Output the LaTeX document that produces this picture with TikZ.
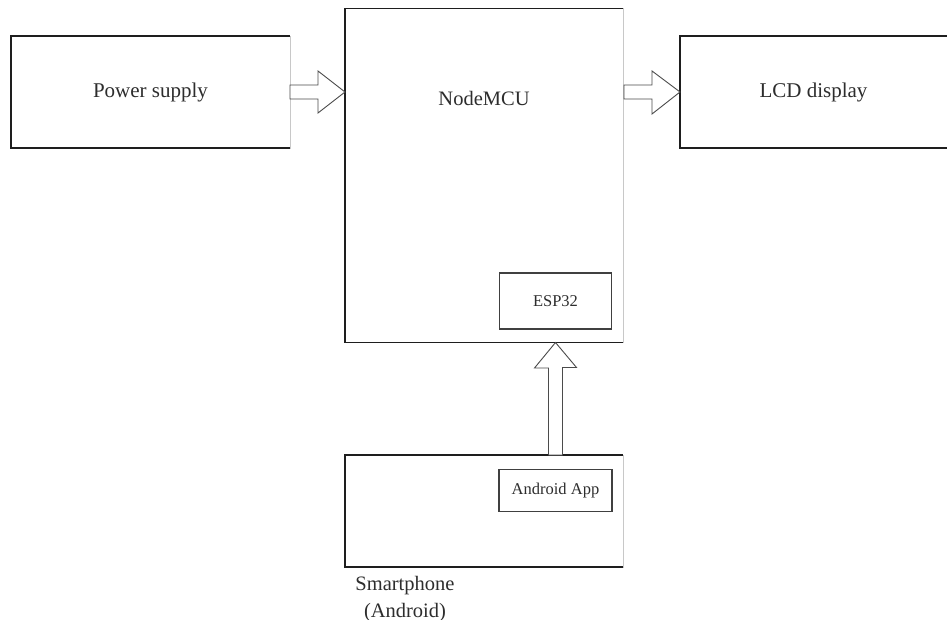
\documentclass[tikz,border=0pt]{standalone}
\usepackage{fontspec}
\setmainfont{Liberation Serif}
\usepackage{tikz}
\usetikzlibrary{positioning, calc}
\definecolor{EdgeDark}{RGB}{30,30,30}
\definecolor{EdgeFaint}{RGB}{200,200,200}
\definecolor{TextGray}{RGB}{45,45,45}

\begin{document}
\begin{tikzpicture}[
        x=1pt, y=-1pt,
        blk/.style={draw=EdgeFaint, line width=0.6pt, fill=white, inner sep=0pt, outer sep=0pt,
                    text=TextGray, font=\fontsize{21}{26}\selectfont},
        sub/.style={draw=EdgeDark!85, line width=1.3pt, inner sep=0pt, outer sep=0pt,
                    text=TextGray, font=\fontsize{16.5}{20}\selectfont},
        lbl/.style={text=TextGray, font=\fontsize{20.5}{27}\selectfont, align=center},
        edge/.style={draw=EdgeDark, line width=1.3pt},
        ledge/.style={draw=EdgeDark, line width=2.4pt},
        harrow/.style={draw=EdgeDark!80, line width=0.9pt, fill=white, line join=miter}
      ]
        \useasboundingbox (0,0) rectangle (947,620);
        % main blocks
        \node[blk, minimum width=279, minimum height=112] (power) at (150.5,92) {Power supply};
        \node[blk, minimum width=278, minimum height=334] (mcu) at (484,175.5) {};
        \node[blk, minimum width=267, minimum height=112] (lcd) at (813.5,92) {LCD display};
        \node[blk, minimum width=278, minimum height=112] (phone) at (484,511) {};
        \foreach \b in {power,mcu,lcd,phone} {
          \draw[edge] (\b.north east) -- (\b.north west) -- (\b.south west) -- (\b.south east);
          \draw[ledge] (\b.north west) -- (\b.south west);
        }
        \node[lbl] (mcutxt) at (484,98) {NodeMCU};
        % inner blocks
        \node[sub, minimum width=111.5, minimum height=56] (esp) at (555.5,301) {ESP32};
        \node[sub, minimum width=113, minimum height=42] (app) at (555.5,490.5) {Android App};
        \node[lbl] (phonetxt) at (405,599) {Smartphone\\(Android)};
        % block arrows
        \draw[harrow] ($(power.east)+(0,-7)$) -- ++(28,0) -- ++(0,-14)
          -- (mcu.west |- power.east) -- ++(-27,21) -- ++(0,-14)
          -- ($(power.east)+(0,7)$) -- cycle;
        \draw[harrow] ($(mcu.east |- lcd.west)+(1,-7)$) -- ++(28,0) -- ++(0,-14)
          -- (lcd.west) -- ++(-28,22) -- ++(0,-15)
          -- ($(mcu.east |- lcd.west)+(1,7)$) -- cycle;
        \draw[harrow] ($(esp.south |- phone.north)+(-7,0)$) -- ++(0,-87) -- ++(-14,0)
          -- (esp.south |- mcu.south) -- ++(21,25) -- ++(-14,0)
          -- ($(esp.south |- phone.north)+(7,0)$) -- cycle;
      \end{tikzpicture}
\end{document}
